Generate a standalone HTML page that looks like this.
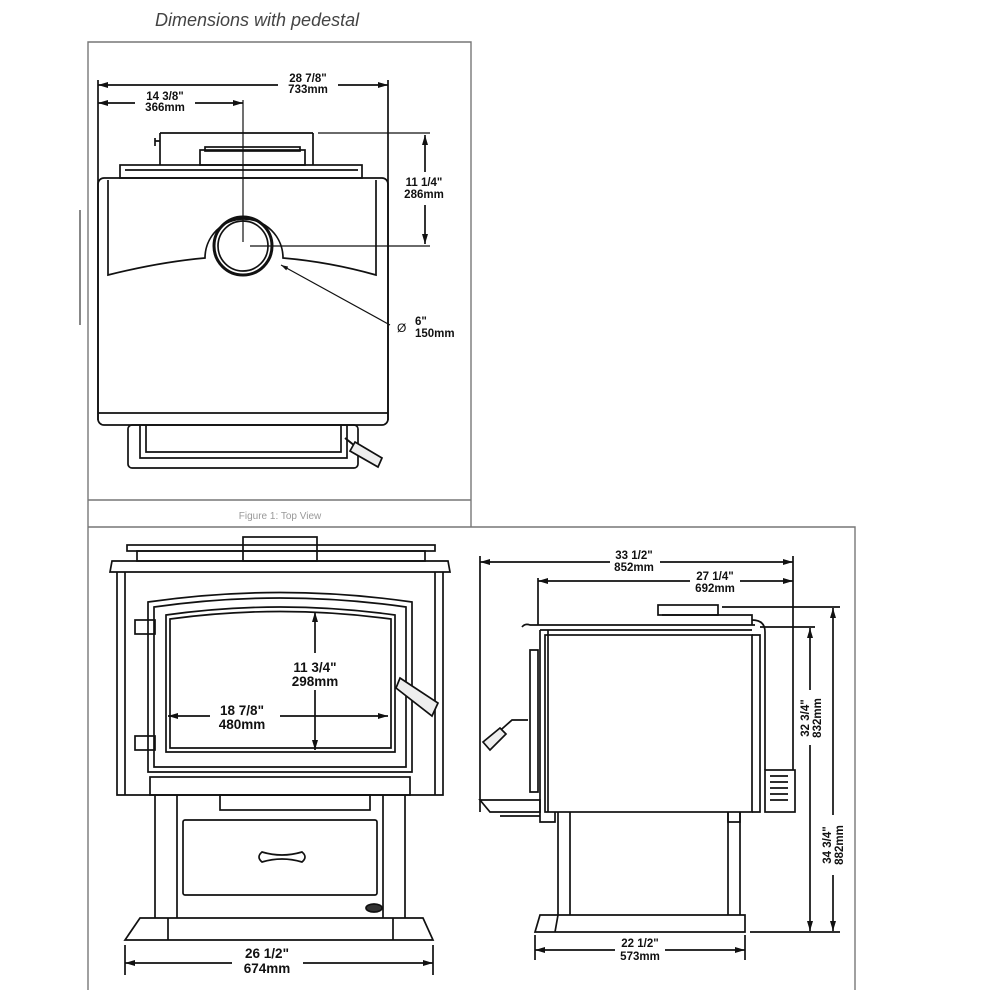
<!DOCTYPE html>
<html><head><meta charset="utf-8"><style>
html,body{margin:0;padding:0;background:#fff;}
svg{display:block;}
text{font-family:"Liberation Sans",sans-serif;font-weight:bold;fill:#111;}
</style></head><body>
<svg width="1000" height="1000" viewBox="0 0 1000 1000" xmlns="http://www.w3.org/2000/svg">
<defs>
<marker id="a" viewBox="0 0 10 10" refX="10" refY="5" markerWidth="6" markerHeight="6" orient="auto-start-reverse"><path d="M0,2 L10,5 L0,8z" fill="#111"/></marker>
</defs>
<text x="155" y="26" style="font-weight:normal;font-style:italic;font-size:18px;fill:#444">Dimensions with pedestal</text>
<g stroke="#777" stroke-width="1.4" fill="none">
<path d="M88,990 V42 H471 V527"/>
<path d="M88,500 H471"/>
<path d="M88,527 H855 V990"/>
<path d="M80,210 V325" stroke="#555"/>
</g>
<text x="280" y="519" text-anchor="middle" style="font-weight:normal;font-size:10px;fill:#999">Figure 1: Top View</text>

<g stroke="#111" stroke-width="1.7" fill="none">
<path d="M98,80 V420 M388,80 V420"/>
<line x1="98" y1="85" x2="278" y2="85" marker-start="url(#a)"/>
<line x1="338" y1="85" x2="388" y2="85" marker-end="url(#a)"/>
<line x1="98" y1="103" x2="135" y2="103" marker-start="url(#a)"/>
<line x1="195" y1="103" x2="243" y2="103" marker-end="url(#a)"/>
<line x1="243" y1="100" x2="243" y2="242" stroke-width="1.2"/>
<line x1="318" y1="133" x2="430" y2="133" stroke-width="1.2"/>
<line x1="250" y1="246" x2="430" y2="246" stroke-width="1.2"/>
<line x1="425" y1="135" x2="425" y2="172" marker-start="url(#a)"/>
<line x1="425" y1="205" x2="425" y2="244" marker-end="url(#a)"/>
<path d="M160,133 H313 M160,133 V165 M313,133 V165"/>
<path d="M155,141 H160 M155,138 V146"/>
<rect x="200" y="150" width="105" height="15"/>
<rect x="205" y="147" width="95" height="4"/>
<rect x="120" y="165" width="242" height="13"/>
<path d="M125,170 H358"/>
<rect x="98" y="178" width="290" height="247" rx="6"/>
<path d="M98,413 H388"/>
<path d="M108,180 V275 Q160,262 205,258 A38,38 0 1 1 283,258 Q330,262 376,275 V180"/>
<circle cx="243" cy="246" r="29" stroke-width="3"/>
<circle cx="243" cy="246" r="25"/>
<line x1="390" y1="325" x2="281" y2="265" marker-end="url(#a)" stroke-width="1.2"/>
<rect x="128" y="425" width="230" height="43" rx="4"/>
<path d="M140,425 V458 H347 V425 M146,425 V452 H341 V425"/>
<path d="M345,438 L355,446" stroke-width="2"/>
<path d="M355,442 L382,458 L378,467 L350,451 Z" fill="#eee"/>
</g>
<g font-size="11.5">
<text x="308" y="82" text-anchor="middle">28 7/8"</text>
<text x="308" y="93" text-anchor="middle">733mm</text>
<text x="165" y="100" text-anchor="middle">14 3/8"</text>
<text x="165" y="111" text-anchor="middle">366mm</text>
<text x="424" y="186" text-anchor="middle">11 1/4"</text>
<text x="424" y="198" text-anchor="middle">286mm</text>
<text x="397" y="332" style="font-weight:normal;font-size:12px">Ø</text>
<text x="415" y="325">6"</text>
<text x="415" y="337">150mm</text>
</g>

<g stroke="#111" stroke-width="1.7" fill="none">
<rect x="127" y="545" width="308" height="6"/>
<rect x="137" y="551" width="288" height="10"/>
<rect x="243" y="537" width="74" height="24"/>
<path d="M112,561 H448 L450,572 H110 Z"/>
<path d="M117,572 V795 H443 V572 M125,572 V795 M435,572 V795"/>
<path d="M148,602 Q280,583 412,602 V772 H148 Z"/>
<path d="M154,607 Q280,589 406,607 V767 H154 Z"/>
<path d="M166,615 Q280,599 395,615 V752 H166 Z"/>
<path d="M170,619 Q280,604 391,619 V748 H170 Z"/>
<rect x="135" y="620" width="20" height="14"/>
<rect x="135" y="736" width="20" height="14"/>
<rect x="150" y="777" width="260" height="18"/>
<path d="M155,795 V918 M177,795 V918 M383,795 V918 M405,795 V918"/>
<rect x="220" y="795" width="150" height="15"/>
<rect x="183" y="820" width="194" height="75" rx="2"/>
<path d="M262,852 Q282,858 302,852 Q308,857 302,862 Q282,856 262,862 Q256,857 262,852 Z"/>
<ellipse cx="374" cy="908" rx="8" ry="4" fill="#333"/>
<path d="M140,918 H423 L433,940 H125 Z"/>
<path d="M168,918 V940 M393,918 V940"/>
<path d="M125,945 V975 M433,945 V975"/>
<line x1="125" y1="963" x2="232" y2="963" marker-start="url(#a)"/>
<line x1="303" y1="963" x2="433" y2="963" marker-end="url(#a)"/>
<line x1="315" y1="653" x2="315" y2="612" marker-end="url(#a)"/>
<line x1="315" y1="690" x2="315" y2="750" marker-end="url(#a)"/>
<line x1="210" y1="716" x2="168" y2="716" marker-end="url(#a)"/>
<line x1="280" y1="716" x2="388" y2="716" marker-end="url(#a)"/>
<path d="M400,678 L438,703 L432,716 L396,688 Z" fill="#eee"/>
</g>
<g font-size="13.5">
<text x="315" y="672" text-anchor="middle">11 3/4"</text>
<text x="315" y="686" text-anchor="middle">298mm</text>
<text x="242" y="715" text-anchor="middle">18 7/8"</text>
<text x="242" y="729" text-anchor="middle">480mm</text>
<text x="267" y="958" text-anchor="middle">26 1/2"</text>
<text x="267" y="973" text-anchor="middle">674mm</text>
</g>

<g stroke="#111" stroke-width="1.7" fill="none">
<path d="M480,556 V812 M538,578 V625 M793,556 V770"/>
<line x1="480" y1="562" x2="610" y2="562" marker-start="url(#a)"/>
<line x1="660" y1="562" x2="793" y2="562" marker-end="url(#a)"/>
<line x1="538" y1="581" x2="690" y2="581" marker-start="url(#a)"/>
<line x1="740" y1="581" x2="793" y2="581" marker-end="url(#a)"/>
<rect x="658" y="605" width="60" height="10"/>
<path d="M662,615 H752 V625"/>
<path d="M522,627 Q525,623 530,625 H755"/>
<path d="M540,630 H752"/>
<rect x="545" y="635" width="207" height="177"/>
<path d="M540,630 V812 M548,630 V812"/>
<path d="M752,620 Q765,620 765,632 V770 M752,635 H760 V812 H752"/>
<rect x="765" y="770" width="30" height="42"/>
<path d="M770,776 H788 M770,782 H788 M770,788 H788 M770,794 H788 M770,800 H788"/>
<path d="M530,650 V792 H538 V650 Z"/>
<path d="M485,744 L512,720 H528"/>
<path d="M483,742 L500,728 L506,734 L490,750 Z" fill="#eee"/>
<path d="M480,800 H540 V812 H490 Z"/>
<path d="M500,816 H540"/>
<path d="M540,812 V822 H555 V812 M728,812 V822 H740 V812"/>
<path d="M558,812 V915 M570,812 V915 M728,812 V915 M740,812 V915"/>
<path d="M540,915 H745 V932 H535 Z M558,915 L555,932"/>
<path d="M722,607 H840 M760,627 H815 M750,932 H840"/>
<path d="M535,935 V960 M745,935 V960"/>
<line x1="535" y1="950" x2="615" y2="950" marker-start="url(#a)"/>
<line x1="665" y1="950" x2="745" y2="950" marker-end="url(#a)"/>
<line x1="810" y1="690" x2="810" y2="628" marker-end="url(#a)"/>
<line x1="810" y1="745" x2="810" y2="931" marker-end="url(#a)"/>
<line x1="833" y1="815" x2="833" y2="608" marker-end="url(#a)"/>
<line x1="833" y1="875" x2="833" y2="931" marker-end="url(#a)"/>
</g>
<g font-size="11.5">
<text x="634" y="559" text-anchor="middle">33 1/2"</text>
<text x="634" y="571" text-anchor="middle">852mm</text>
<text x="715" y="580" text-anchor="middle">27 1/4"</text>
<text x="715" y="592" text-anchor="middle">692mm</text>
<text x="640" y="947" text-anchor="middle">22 1/2"</text>
<text x="640" y="960" text-anchor="middle">573mm</text>
<text transform="translate(809,718) rotate(-90)" text-anchor="middle">32 3/4"</text>
<text transform="translate(821,718) rotate(-90)" text-anchor="middle">832mm</text>
<text transform="translate(831,845) rotate(-90)" text-anchor="middle">34 3/4"</text>
<text transform="translate(843,845) rotate(-90)" text-anchor="middle">882mm</text>
</g>
</svg>
</body></html>
